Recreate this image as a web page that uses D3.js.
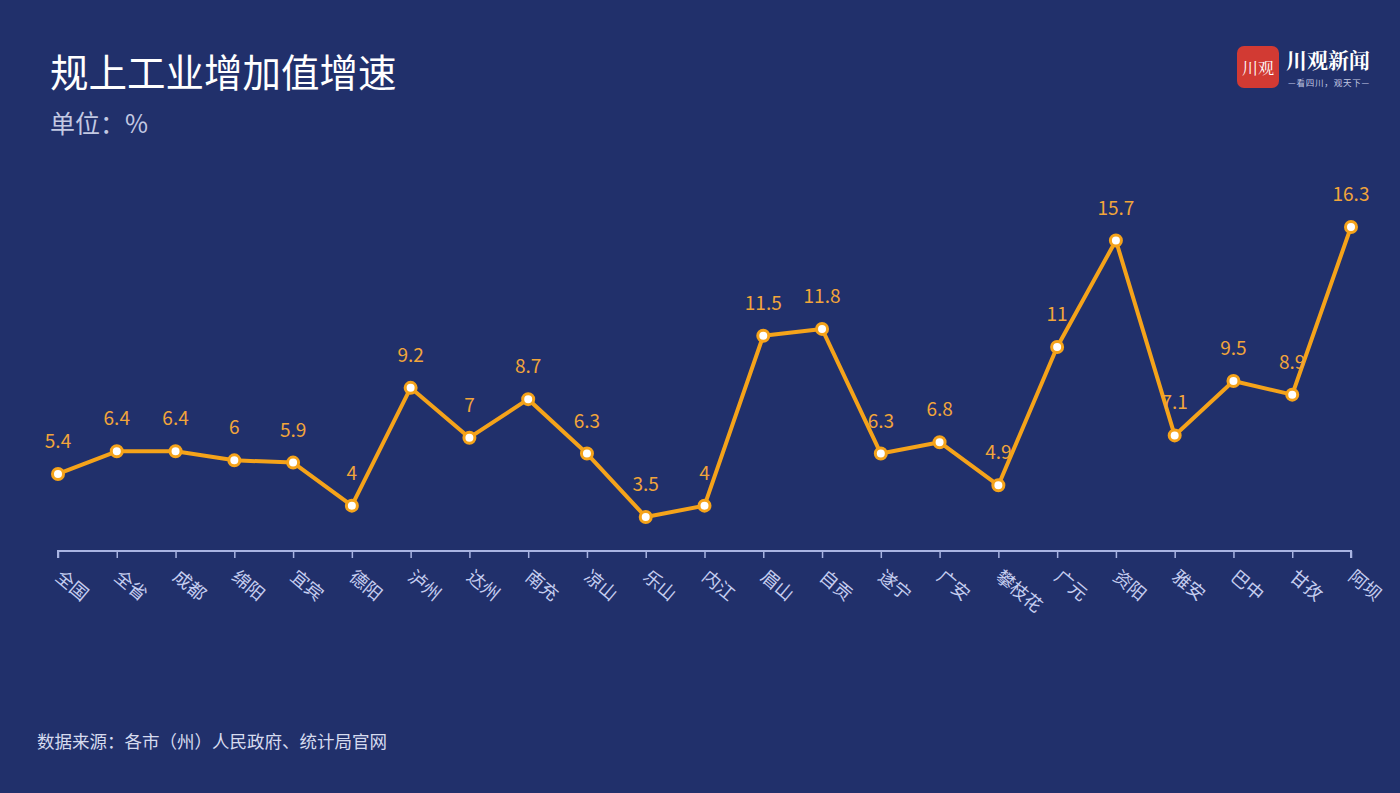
<!DOCTYPE html>
<html><head><meta charset="utf-8">
<script src="https://cdnjs.cloudflare.com/ajax/libs/d3/7.8.5/d3.min.js"></script>
<style>
html,body{margin:0;padding:0;background:#21306b;}
svg{display:block;font-family:"Noto Sans CJK SC","Noto Sans",sans-serif;}
</style></head><body>
<svg id="c" width="1400" height="793"></svg>
<script>
const categories = ["全国","全省","成都","绵阳","宜宾","德阳","泸州","达州","南充","凉山","乐山","内江","眉山","自贡","遂宁","广安","攀枝花","广元","资阳","雅安","巴中","甘孜","阿坝"];
const values = [5.4,6.4,6.4,6,5.9,4,9.2,7,8.7,6.3,3.5,4,11.5,11.8,6.3,6.8,4.9,11,15.7,7.1,9.5,8.9,16.3];
const valueLabels = ["5.4","6.4","6.4","6","5.9","4","9.2","7","8.7","6.3","3.5","4","11.5","11.8","6.3","6.8","4.9","11","15.7","7.1","9.5","8.9","16.3"];

const svg = d3.select("#c");
svg.append("rect").attr("width",1400).attr("height",793).attr("fill","#21306b");

const x = d3.scalePoint().domain(categories).range([58,1351]);
const y = d3.scaleLinear().domain([2,18]).range([551,188.4]);

// title
svg.append("text").attr("x",50).attr("y",87).attr("fill","#ffffff")
  .attr("font-size",38.5).text("规上工业增加值增速");
svg.append("text").attr("x",50).attr("y",133).attr("fill","#c3c9e3")
  .attr("font-size",25).text("单位：%");
svg.append("text").attr("x",37).attr("y",748).attr("fill","#d6dbef")
  .attr("font-size",17.5).text("数据来源：各市（州）人民政府、统计局官网");

// logo
const lg = svg.append("g");
lg.append("rect").attr("x",1237).attr("y",46).attr("width",42).attr("height",42).attr("rx",7).attr("fill","#d23a33");
lg.append("text").attr("x",1258).attr("y",74).attr("text-anchor","middle").attr("fill","#ffffff")
  .attr("font-size",16).attr("font-family","Noto Serif CJK SC, Noto Sans CJK SC").text("川观");
lg.append("text").attr("x",1286).attr("y",68).attr("fill","#ffffff").attr("font-size",21).attr("font-weight","bold")
  .attr("font-family","Noto Serif CJK SC, Noto Sans CJK SC").text("川观新闻");
lg.append("text").attr("x",1329).attr("y",86).attr("text-anchor","middle").attr("fill","#c3c9e3").attr("font-size",8.5)
  .attr("letter-spacing",0.8).text("—看四川，观天下—");

// axis
const axis = d3.axisBottom(x).tickSize(7).tickSizeOuter(0).tickFormat("");
const ag = svg.append("g").attr("transform","translate(0,551)").call(axis);
ag.select(".domain").attr("stroke","#a9b4e2").attr("stroke-width",2).attr("d","M58,7V0H1351V7");
ag.selectAll(".tick line").attr("stroke","#a9b4e2").attr("stroke-width",1.5);

svg.append("g").selectAll("text").data(categories).join("text")
  .attr("transform",d=>`translate(${x(d)+6},${567}) rotate(40)`)
  .attr("dy","0.85em")
  .attr("fill","#c5cdf0").attr("font-size",18).text(d=>d);

// line
const line = d3.line().x((d,i)=>x(categories[i])).y(d=>y(d));
svg.append("path").datum(values).attr("d",line).attr("fill","none")
  .attr("stroke","#f5a31a").attr("stroke-width",4).attr("stroke-linejoin","round");

svg.append("g").selectAll("circle").data(values).join("circle")
  .attr("cx",(d,i)=>x(categories[i])).attr("cy",d=>y(d)).attr("r",5.5)
  .attr("fill","#ffffff").attr("stroke","#f5a31a").attr("stroke-width",3);

svg.append("g").selectAll("text").data(values).join("text")
  .attr("x",(d,i)=>x(categories[i])).attr("y",d=>y(d)-26)
  .attr("text-anchor","middle").attr("fill","#f2a53a").attr("font-size",19)
  .text((d,i)=>valueLabels[i]);
</script>
</body></html>
